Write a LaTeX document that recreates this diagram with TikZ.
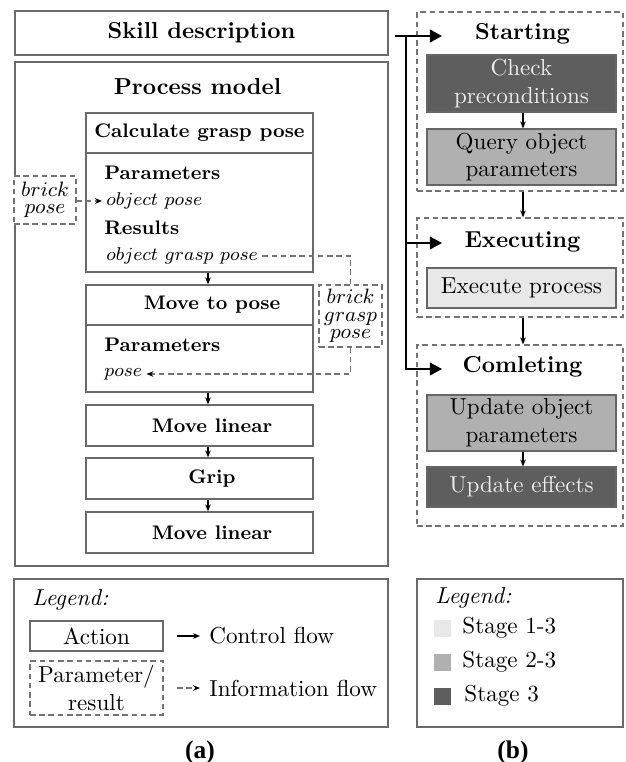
\documentclass[tikz,border=0pt]{standalone}
\usepackage{fontspec}
\newfontfamily\capfont{Liberation Serif}[BoldFont={Liberation Serif Bold}]
\usetikzlibrary{arrows.meta}
\def\u{0.4329pt}
\definecolor{stagedark}{HTML}{5E5E5E}
\definecolor{stagemid}{HTML}{B0B0B0}
\definecolor{stagelight}{HTML}{E8E8E8}
\definecolor{textlight}{HTML}{ECECEC}
\definecolor{linegray}{HTML}{6A6A6A}
\newcommand{\actfont}{\fontsize{8.5}{10}\selectfont}

\begin{document}
\begin{tikzpicture}[x=\u, y=-\u,
  sz/.style 2 args={minimum width=#1*\u, minimum height=#2*\u},
  frame/.style={draw=linegray, line width=0.55pt, inner sep=0pt, align=center},
  dframe/.style={frame, draw=black!55, dash pattern=on 2.4pt off 1.6pt},
  dline/.style={draw=black!55, line width=0.55pt, dash pattern=on 2.4pt off 1.6pt},
  flow/.style={draw=black, line width=0.45pt, -{Stealth[length=3pt,width=2.4pt]}},
  info/.style={dline, -{Stealth[length=3pt,width=2.4pt,black]}},
  big/.style={draw=black, line width=0.85pt},
  bigtip/.style={big, -{Triangle[length=5.2pt,width=5.4pt]}},
  task/.style={draw=black!60, line width=0.5pt, inner sep=0pt, align=center, sz={189}{#1}},
  lefttext/.style={anchor=west, inner sep=0pt},
  actitle/.style={font=\actfont\bfseries},
  infotext/.style={font=\fontsize{8.6}{7.5}\selectfont, align=center},
  sq/.style={inner sep=0pt, minimum size=17*\u},
  caption/.style={font=\capfont\bfseries\fontsize{11}{13}\selectfont},
]
\useasboundingbox (0,0) rectangle (625,762);

% ---------- (a) skill description and process model ----------
\node[frame, sz={373}{44}] (skill) at (201.5,33) {\textbf{Skill description}};
\node[frame, sz={373}{504}] (proc) at (201.5,314) {};
\node (proct) at (197.5,87) {\textbf{Process model}};

% Calculate grasp pose
\node[frame, sz={227}{40}, actitle] (calch) at (199.5,133) {Calculate grasp pose};
\node[frame, sz={227}{119}] (calcb) at (199.5,212.5) {};
\node[lefttext, font=\actfont\bfseries] (cpar) at (104,173) {Parameters};
\node[lefttext, font=\actfont] (cop) at (106,201) {$object\ pose$};
\node[lefttext, font=\actfont\bfseries] (cres) at (104,228) {Results};
\node[lefttext, font=\actfont] (cogp) at (106,256) {$object\ grasp\ pose$};

% Move to pose
\node[frame, sz={227}{40}, actitle] (moveh) at (199.5,305) {\hspace*{10.8pt}Move to pose};
\node[frame, sz={227}{67}] (moveb) at (199.5,358.5) {};
\node[lefttext, font=\actfont\bfseries] (mpar) at (104,345) {Parameters};
\node[lefttext, font=\actfont] (mpose) at (104,374) {$pose$};

% remaining actions
\node[frame, sz={227}{41}, actitle] (ml1) at (199.5,425.5) {\hspace*{10.8pt}Move linear};
\node[frame, sz={227}{41}, actitle] (grip) at (199.5,478.5) {\hspace*{10.8pt}Grip};
\node[frame, sz={227}{41}, actitle] (ml2) at (199.5,532.5) {\hspace*{10.8pt}Move linear};

% parameters / results
\node[dframe, fill=white, sz={62}{48}, infotext] (bp) at (45,200) {$brick$\\$pose$};
\node[dframe, sz={63}{62}, infotext] (bgp) at (350.5,316) {$brick$\\$grasp$\\$pose$};

% control flow
\coordinate (ax) at (208,0);
\draw[flow] (calcb.south -| ax) -- (moveh.north -| ax);
\draw[flow] (moveb.south -| ax) -- (ml1.north -| ax);
\draw[flow] (ml1.south -| ax) -- (grip.north -| ax);
\draw[flow] (grip.south -| ax) -- (ml2.north -| ax);

% information flow
\draw[info, shorten >=4*\u] (bp.east |- cop) -- (cop.west);
\draw[dline, shorten <=4*\u] (cogp.east) -- (cogp.east -| bgp.north) -- (bgp.north);
\draw[info, shorten >=4*\u] (bgp.south) -- (bgp.south |- mpose) -- (mpose.east);

% ---------- (b) stages ----------
\node[dframe, sz={206}{179}] (st) at (520,101.5) {};
\node[font=\bfseries] (stt) at (522.5,34) {Starting};
\node[task={57}, fill=stagedark, text=textlight] (check) at (521.5,83.5) {Check\\preconditions};
\node[task={56}, fill=stagemid] (query) at (521.5,157) {Query object\\parameters};

\node[dframe, sz={206}{99}] (ex) at (520,267.5) {};
\node[font=\bfseries] (ext) at (522.5,242) {Executing};
\node[task={40}, fill=stagelight] (exec) at (521.5,288) {Execute process};

\node[dframe, sz={206}{181}] (co) at (520,435.5) {};
\node[font=\bfseries] (cot) at (522.5,367) {Comleting};
\node[task={56}, fill=stagemid] (upd) at (521.5,423) {Update object\\parameters};
\node[task={40}, fill=stagedark, text=textlight] (eff) at (521.5,487) {Update effects};

\coordinate (rx) at (523,0);
\draw[flow] (check.south -| rx) -- (query.north -| rx);
\draw[flow] (st.south -| rx) -- (ex.north -| rx);
\draw[flow] (ex.south -| rx) -- (co.north -| rx);
\draw[flow] (upd.south -| rx) -- (eff.north -| rx);

% skill description triggers the stages
\coordinate (t1) at (442,36);
\coordinate (t2) at (442,243);
\coordinate (t3) at (442,369);
\coordinate (vx) at (406,0);
\draw[bigtip, shorten <=6*\u] (skill.east |- t1) -- (t1);
\draw[bigtip] (t1 -| vx) -- (t3 -| vx) -- (t3);
\draw[bigtip] (t2 -| vx) -- (t2);

% ---------- legends ----------
\node[frame, sz={374}{148}] (lega) at (201,653) {};
\node[lefttext, font=\itshape] (lgat) at (32,600) {Legend:};
\node[frame, sz={133}{30}] (act) at (96.5,636) {Action};
\node[dframe, sz={133}{54}] (par) at (96.5,688) {Parameter/\\result};
\coordinate (cf0) at (177,636);
\coordinate (cf1) at (200,636);
\coordinate (if0) at (177,688);
\coordinate (if1) at (200,688);
\draw[flow] (cf0) -- (cf1);
\draw[info] (if0) -- (if1);
\node[lefttext] (cft) at (209,636) {Control flow};
\node[lefttext] (ift) at (209,688) {Information flow};

\node[frame, sz={206}{148}] (legb) at (520,653) {};
\node[lefttext, font=\itshape] (lgbt) at (435,598) {Legend:};
\node[sq, fill=stagelight] (s1) at (442.5,628.5) {};
\node[sq, fill=stagemid] (s2) at (442.5,662.5) {};
\node[sq, fill=stagedark] (s3) at (442.5,696) {};
\node[lefttext] (s1t) at (462,628) {Stage 1-3};
\node[lefttext] (s2t) at (462,662) {Stage 2-3};
\node[lefttext] (s3t) at (464,696) {Stage 3};

% sub-figure captions
\node[caption] (capa) at (200,752) {(a)};
\node[caption] (capb) at (513,752) {(b)};
\end{tikzpicture}
\end{document}
